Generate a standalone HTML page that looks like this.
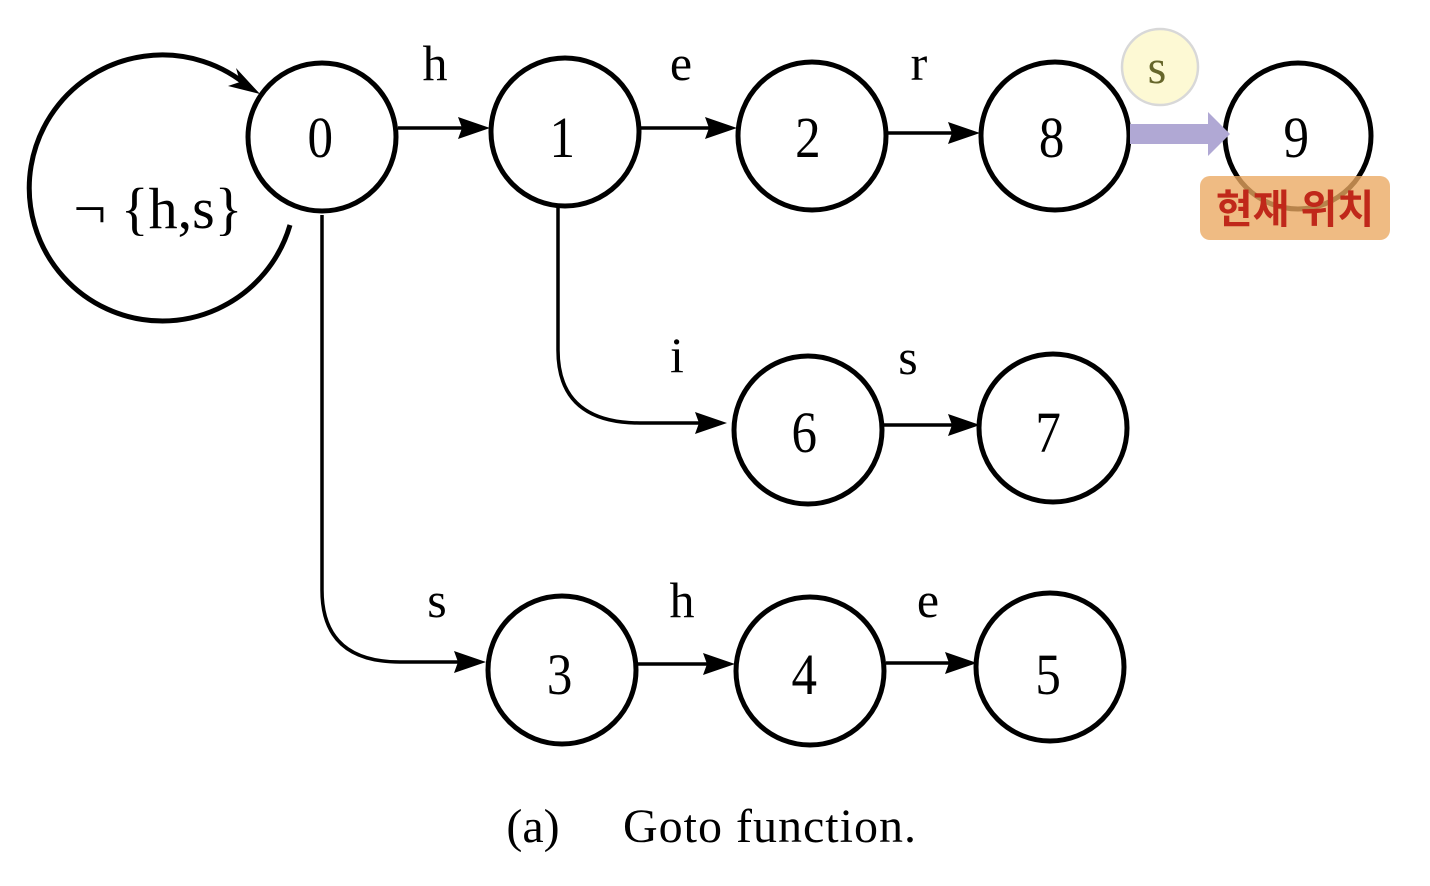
<!DOCTYPE html>
<html><head><meta charset="utf-8"><style>
html,body{margin:0;padding:0;background:#fff;}
svg{display:block}
</style></head><body>
<svg width="1430" height="886" viewBox="0 0 1430 886" xmlns="http://www.w3.org/2000/svg">
<g fill="none" stroke="#000" stroke-width="5">
<path d="M290,225 A133,133 0 1 1 250,88"/>
<circle cx="322" cy="137" r="74"/>
<circle cx="565" cy="132" r="74"/>
<circle cx="812" cy="136" r="74"/>
<circle cx="1055" cy="136" r="74"/>
<circle cx="1298" cy="136" r="73"/>
<circle cx="808" cy="430" r="74"/>
<circle cx="1053" cy="428" r="74"/>
<circle cx="562" cy="670" r="74"/>
<circle cx="810" cy="671" r="74"/>
<circle cx="1050" cy="667" r="74"/>
<line x1="398" y1="128" x2="465" y2="128" stroke-width="3.5"/>
<line x1="640" y1="128" x2="712" y2="128" stroke-width="3.5"/>
<line x1="888" y1="133" x2="955" y2="133" stroke-width="3.5"/>
<line x1="884" y1="425" x2="955" y2="425" stroke-width="3.5"/>
<line x1="637" y1="664" x2="710" y2="664" stroke-width="3.5"/>
<line x1="886" y1="663" x2="952" y2="663" stroke-width="3.5"/>
<path d="M558,205 L558,350 Q558,423 640,423 L700,423" stroke-width="3.5"/>
<path d="M322,215 L322,590 Q322,662 400,662 L460,662" stroke-width="3.5"/>
</g>
<g fill="#000">
<polygon points="490,128 458,117 462,128 458,139"/>
<polygon points="737,128 705,117 709,128 705,139"/>
<polygon points="980,133 948,122 952,133 948,144"/>
<polygon points="980,425 948,414 952,425 948,436"/>
<polygon points="735,664 703,653 707,664 703,675"/>
<polygon points="977,663 945,652 949,663 945,674"/>
<polygon points="727,423 695,412 699,423 695,434"/>
<polygon points="486,662 454,651 458,662 454,673"/>
<polygon points="260,94 236,68 240,82 228,86"/>
<circle cx="1188" cy="136" r="5"/>
</g>
<g font-family="'Liberation Serif',serif" fill="#000" text-anchor="middle">
<g font-size="58" transform="scale(0.88,1)">
<text x="364" y="157">0</text>
<text x="639" y="157">1</text>
<text x="918" y="157">2</text>
<text x="1195" y="157">8</text>
<text x="1473" y="157">9</text>
<text x="914" y="452">6</text>
<text x="1191" y="452">7</text>
<text x="636" y="694">3</text>
<text x="914" y="694">4</text>
<text x="1191" y="694">5</text>
</g>
<g font-size="50">
<text x="435" y="80">h</text>
<text x="681" y="80">e</text>
<text x="919" y="80">r</text>
<text x="677" y="372">i</text>
<text x="908" y="374">s</text>
<text x="437" y="617">s</text>
<text x="682" y="617">h</text>
<text x="928" y="617">e</text>
</g>
<text x="158" y="228" font-size="58" transform="translate(0,0)">¬ {h,s}</text>
<text x="533" y="842" font-size="48">(a)</text>
<text x="770" y="842" font-size="48" letter-spacing="1">Goto function.</text>
</g>
<circle cx="1160" cy="67" r="38" fill="#fdf9d4" stroke="#d8d8d8" stroke-width="2.5"/>
<text x="1157" y="83" font-family="'Liberation Serif',serif" font-size="48" fill="#66662a" text-anchor="middle">s</text>
<polygon points="1130,124 1208,124 1208,112 1230,134 1208,156 1208,144 1130,144" fill="#b0a8d4"/>
<rect x="1200" y="176" width="190" height="64" rx="10" fill="#eba860" fill-opacity="0.78"/>
<text x="1295" y="223" font-family="'Liberation Sans','Noto Sans CJK KR',sans-serif" font-size="40" font-weight="bold" fill="#c0281a" text-anchor="middle">현재 위치</text>
</svg>
</body></html>
